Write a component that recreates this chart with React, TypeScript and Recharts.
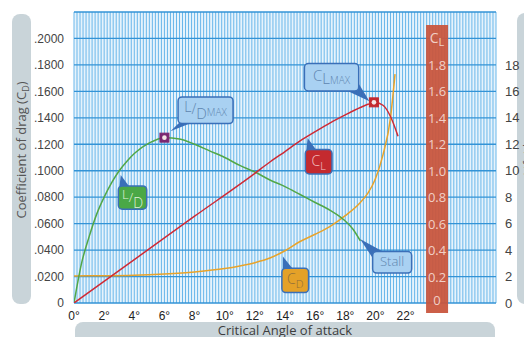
import React from "react";
import { LineChart, Line, XAxis, YAxis, CartesianGrid, ReferenceDot, ReferenceLine } from "recharts";

// ---- data ----
const xTicks = [0, 2, 4, 6, 8, 10, 12, 14, 16, 18, 20, 22];
const cdTicks = [0, 0.02, 0.04, 0.06, 0.08, 0.1, 0.12, 0.14, 0.16, 0.18, 0.2];
const ldTicks = [0, 2, 4, 6, 8, 10, 12, 14, 16, 18];
const clColumnLabels = ["0", "0.2", "0.4", "0.6", "0.8", "1.0", "1.2", "1.4", "1.6", "1.8"];
const clColumnValues = [0, 0.02, 0.04, 0.06, 0.08, 0.1, 0.12, 0.14, 0.16, 0.18];
const clColumn = { x: 24.09, yLow: -0.0076, yHigh: 0.2102 };

// Lift coefficient (plotted on the drag scale, CL/10)
const clAngles = [0, 4, 8, 12, 13, 14, 15, 16, 17, 18, 19, 19.5, 20, 20.5, 21, 21.5];
const clValues = [0, 0.0328, 0.0656, 0.098, 0.1066, 0.1145, 0.1225, 0.1295, 0.1362, 0.1422, 0.1478, 0.1502, 0.1515, 0.1495, 0.141, 0.126];

// Lift/drag ratio (right axis)
const ldAngles = [0, 0.5, 1, 1.5, 2, 2.5, 3, 3.5, 4, 5, 6, 7, 8, 9, 10, 11, 12, 13, 14, 15, 16, 17, 18, 18.5, 19];
const ldValues = [0, 3.0, 5.0, 6.7, 8.0, 9.1, 10.0, 10.7, 11.3, 12.1, 12.5, 12.4, 12.0, 11.5, 11.0, 10.4, 9.9, 9.3, 8.8, 8.2, 7.6, 7.0, 6.2, 5.6, 4.7];

// Drag coefficient
const cdAngles = [0, 2, 4, 6, 8, 10, 11, 12, 13, 14, 15, 16, 17, 18, 19, 19.5, 20, 20.5, 21, 21.3];
const cdValues = [0.0205, 0.0206, 0.021, 0.022, 0.0235, 0.026, 0.028, 0.0305, 0.034, 0.0395, 0.0465, 0.052, 0.058, 0.066, 0.076, 0.083, 0.094, 0.112, 0.14, 0.173];

const ldMax = { x: 6, y: 0.125 };
const clMax = { x: 19.9, y: 0.1517 };

const clData = clAngles.map((x, i) => ({ x, v: clValues[i] }));
const ldData = ldAngles.map((x, i) => ({ x, v: ldValues[i] }));
const cdData = cdAngles.map((x, i) => ({ x, v: cdValues[i] }));

const fineX = Array.from({ length: 141 }, (_, i) => Math.round(i * 2) / 10);

const BLUE = "#3a6fb8";
const LIGHT = "#a9d1f2";

type CalloutCfg = {
  dx: number; dy: number; w: number; h: number; fill: string; color: string;
  base: [number, number, number, number];
  parts: { t: string; size: number; dy?: number }[];
  anchor: { x: number; y: number };
};

const callouts: CalloutCfg[] = [
  { anchor: { x: 3.1, y: 0.0968 }, dx: -2.4, dy: 11, w: 28.4, h: 23.3, fill: "#4aa846", color: "#e2f2dc",
    base: [1, 2, 12, 2], parts: [{ t: "L", size: 13, dy: -3 }, { t: "/", size: 13, dy: 0 }, { t: "D", size: 14, dy: 6 }] },
  { anchor: { x: 6.4, y: 0.1298 }, dx: 7.6, dy: -34.4, w: 55, h: 26.7, fill: LIGHT, color: "#5f86b0",
    base: [3, 24, 18, 24], parts: [{ t: "L", size: 14, dy: -2 }, { t: "/", size: 14, dy: 0 }, { t: "D", size: 15, dy: 5 }, { t: "MAX", size: 10, dy: 2 }] },
  { anchor: { x: 19.6, y: 0.1525 }, dx: -65, dy: -37.7, w: 54.3, h: 27.3, fill: LIGHT, color: "#5f86b0",
    base: [40, 26, 53, 18], parts: [{ t: "C", size: 15, dy: 0 }, { t: "L", size: 15, dy: 3 }, { t: "MAX", size: 10, dy: 3 }] },
  { anchor: { x: 15.5, y: 0.1248 }, dx: -2.3, dy: 11.7, w: 26.7, h: 24.3, fill: "#c42a2f", color: "#f3c8c8",
    base: [1, 2, 12, 2], parts: [{ t: "C", size: 14, dy: 0 }, { t: "L", size: 11, dy: 4 }] },
  { anchor: { x: 13.86, y: 0.0351 }, dx: -1, dy: 11.6, w: 26.7, h: 24.4, fill: "#e4a128", color: "#8d6d3a",
    base: [1, 2, 12, 2], parts: [{ t: "C", size: 14, dy: 0 }, { t: "D", size: 11, dy: 4 }] },
  { anchor: { x: 18.98, y: 0.0483 }, dx: 12.6, dy: 12.4, w: 39, h: 21.6, fill: LIGHT, color: "#5f86b0",
    base: [1, 8, 12, 1], parts: [{ t: "Stall", size: 13, dy: 0 }] },
];

function CalloutShape({ cx, cy, cfg }: { cx: number; cy: number; cfg: CalloutCfg }) {
  const bx = cx + cfg.dx;
  const by = cy + cfg.dy;
  const [x1, y1, x2, y2] = cfg.base;
  return (
    <g>
      <polygon points={`${cx},${cy} ${bx + x1},${by + y1} ${bx + x2},${by + y2}`} fill={BLUE} />
      <rect x={bx} y={by} width={cfg.w} height={cfg.h} rx={4} ry={4} fill={cfg.fill} stroke={BLUE} strokeWidth={1.5} />
      <text x={bx + cfg.w / 2} y={by + cfg.h / 2 + 4} textAnchor="middle" fill={cfg.color}
        style={{ fontFamily: "'Open Sans', sans-serif", fontWeight: 300 }}>
        {cfg.parts.map((p, i) => (
          <tspan key={i} fontSize={p.size} dy={i === 0 ? (p.dy || 0) : (p.dy || 0) - (cfg.parts[i - 1].dy || 0)}>{p.t}</tspan>
        ))}
      </text>
    </g>
  );
}

function MarkerShape({ cx, cy, color }: { cx: number; cy: number; color: string }) {
  return (
    <g>
      <rect x={cx - 4.5} y={cy - 4.5} width={9} height={9} fill={color} stroke={color} strokeWidth={1} />
      <circle cx={cx} cy={cy} r={2.3} fill="#f4e6e6" />
    </g>
  );
}

const leftFmt = (v: number) => (v === 0 ? "0" : "." + String(Math.round(v * 10000)).padStart(4, "0"));

export default function App() {
  return (
    <div style={{ position: "absolute", left: 0, top: 0, width: 524, height: 337, background: "#fff", overflow: "hidden" }}>
      {/* axis title panels */}
      <div style={{ position: "absolute", left: 12, top: 14, width: 19, height: 290, borderRadius: 8, background: "#c9d4d9" }} />
      <div style={{ position: "absolute", left: 517, top: 13, width: 30, height: 291, borderRadius: 8, background: "#c9d4d9" }} />
      <div style={{ position: "absolute", left: 75, top: 322, width: 420, height: 30, borderRadius: 8, background: "#c9d4d9" }} />
      <div style={{ position: "absolute", left: 75, top: 321, width: 420, height: 16, textAlign: "center", fontFamily: "'Open Sans', sans-serif", fontSize: 13, color: "#3d3d3d", lineHeight: "18px" }}>
        Critical Angle of attack
      </div>
      <div style={{ position: "absolute", left: 22, top: 150, transform: "translate(-50%, -50%) rotate(-90deg)", whiteSpace: "nowrap", fontFamily: "'Open Sans', sans-serif", fontSize: 13, color: "#555" }}>
        Coefficient of drag (C<sub style={{ fontSize: 9 }}>D</sub>)
      </div>
      <div style={{ position: "absolute", left: 528, top: 150, transform: "translate(-50%, -50%) rotate(-90deg)", whiteSpace: "nowrap", fontFamily: "'Open Sans', sans-serif", fontSize: 13, color: "#555" }}>
        Lift/drag
      </div>
      <div style={{ position: "absolute", left: 0, top: 0 }}>
        <LineChart width={524} height={337} margin={{ top: 12, right: 0, bottom: 14, left: 0 }} style={{ overflow: "visible" }}>
          <CartesianGrid horizontal={false} vertical={false} fill="#e6f3fc" fillOpacity={1} />
          <XAxis dataKey="x" type="number" domain={[0, 28]} ticks={xTicks} allowDataOverflow
            tickFormatter={(v: number) => `${v}°`} axisLine={false} tickLine={false} height={20}
            tick={{ fill: "#222", fontSize: 12, fontFamily: "'Liberation Sans', Arial, sans-serif" }} tickMargin={2} />
          <YAxis type="number" domain={[0, 0.22]} ticks={cdTicks} allowDataOverflow width={74}
            tickFormatter={leftFmt} axisLine={false} tickLine={false}
            tick={{ fill: "#444", fontSize: 12, fontFamily: "'Liberation Sans', Arial, sans-serif" }} tickMargin={4} />
          <YAxis yAxisId="right" orientation="right" type="number" domain={[0, 22]} ticks={ldTicks} allowDataOverflow width={28}
            axisLine={false} tickLine={false}
            tick={{ fill: "#444", fontSize: 13, fontFamily: "'Liberation Sans', Arial, sans-serif", textAnchor: "start" }} tickMargin={3} />
          {fineX.map((x) => (
            <ReferenceLine key={"v" + x} x={x} stroke="#6ab7ea" strokeWidth={1} ifOverflow="visible" />
          ))}
          {[...cdTicks, 0.22].map((y) => (
            <ReferenceLine key={"h" + y} y={y} stroke="#3393d6" strokeWidth={1.3} ifOverflow="visible" />
          ))}
          <ReferenceLine ifOverflow="visible" stroke="#c9553d" strokeOpacity={0.94} strokeWidth={22}
            segment={[{ x: clColumn.x, y: clColumn.yLow }, { x: clColumn.x, y: clColumn.yHigh }]} />
          {clColumnValues.map((v, i) => (
            <ReferenceDot key={v} x={clColumn.x} y={v} ifOverflow="visible"
              shape={(p: any) => (
                <text x={p.cx} y={p.cy + (i === 0 ? 2 : 5)} textAnchor="middle" fill="#f1cfc6" fontSize={13}
                  style={{ fontFamily: "'Open Sans', sans-serif" }}>{clColumnLabels[i]}</text>
              )} />
          ))}
          <ReferenceDot x={clColumn.x} y={0.2} ifOverflow="visible"
            shape={(p: any) => (
              <text x={p.cx} y={p.cy + 5} textAnchor="middle" fill="#f1cfc6" style={{ fontFamily: "'Open Sans', sans-serif" }}>
                <tspan fontSize={14}>C</tspan><tspan fontSize={11} dy={3}>L</tspan>
              </text>
            )} />
          <Line data={cdData} dataKey="v" stroke="#e8a32a" strokeWidth={1.5} dot={false} isAnimationActive={false} type="monotone" />
          <Line data={ldData} dataKey="v" yAxisId="right" stroke="#52a747" strokeWidth={1.5} dot={false} isAnimationActive={false} type="monotone" />
          <Line data={clData} dataKey="v" stroke="#cf2a35" strokeWidth={1.5} dot={false} isAnimationActive={false} type="monotone" />
          <ReferenceDot x={ldMax.x} y={ldMax.y} ifOverflow="visible" shape={(p: any) => <MarkerShape cx={p.cx} cy={p.cy} color="#7a2772" />} />
          <ReferenceDot x={clMax.x} y={clMax.y} ifOverflow="visible" shape={(p: any) => <MarkerShape cx={p.cx} cy={p.cy} color="#c42a2f" />} />
          {callouts.map((c, i) => (
            <ReferenceDot key={i} x={c.anchor.x} y={c.anchor.y} ifOverflow="visible"
              shape={(p: any) => <CalloutShape cx={p.cx} cy={p.cy} cfg={c} />} />
          ))}
        </LineChart>
      </div>
    </div>
  );
}
